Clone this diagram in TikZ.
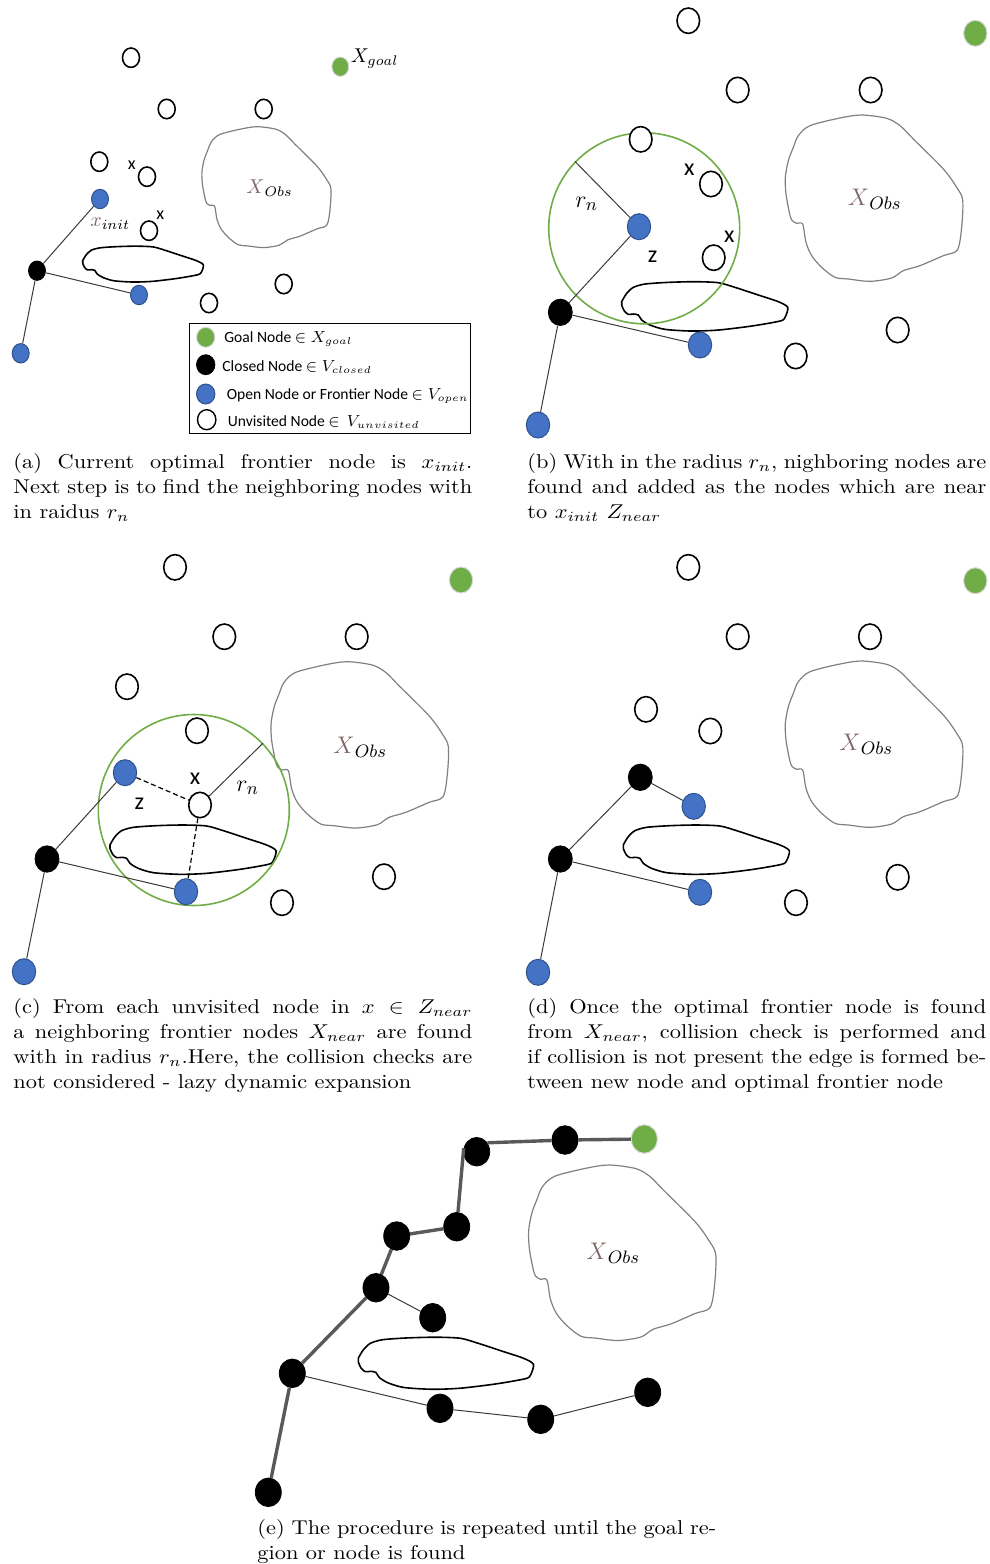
\documentclass[tikz,border=0pt]{standalone}
\usepackage{fontspec}
\newfontfamily\carl{Carlito}
\usetikzlibrary{shapes.geometric}

\definecolor{nodeblue}{HTML}{4472C4}
\definecolor{blueedge}{HTML}{2F528F}
\definecolor{nodegreen}{HTML}{70AD47}
\definecolor{obsgray}{HTML}{808080}
\definecolor{obsbrown}{HTML}{7F6565}
\definecolor{pathgray}{HTML}{595959}
\definecolor{edgegray}{HTML}{3A3A3A}

% obstacle outlines, drawn in a local frame (top-left corner / left tip at the origin)
\newcommand\ObsBig{\draw[obsline] plot[smooth cycle, tension=0.5] coordinates {
 (40,62) (75,32) (165,9) (230,0) (305,10) (345,32) (385,72) (475,162) (515,217)
 (533,255) (530,337) (517,405) (475,422) (405,452) (355,467) (320,489) (255,499)
 (190,492) (150,487) (110,457) (80,422) (63,382) (53,327) (35,325) (20,315)
 (13,292) (3,237) (1,187) (10,137) (25,97)};}
\newcommand\ObsSmall{\draw[obsblack] plot[smooth cycle, tension=0.45] coordinates {
 (0,0) (15,-25) (35,-43) (70,-53) (140,-58) (220,-60) (290,-57) (340,-43)
 (410,-20) (470,0) (498,17) (490,47) (475,58) (390,73) (290,85) (210,88)
 (130,83) (85,70) (60,55) (50,40) (35,37) (20,38) (8,28) (0,10)};}
\newcommand\Xobs{$\textcolor{obsbrown}{X}_{Obs}$}
% caption blocks: 10pt text, widened to the column width
\newlength\capwi
\setlength\capwi{204.9pt}
\newcommand\jline[1]{\makebox[\capwi][s]{#1}\\}
\newcommand\capblock[1]{\scalebox{1.12}[1]{\parbox[t]{\capwi}{\fontsize{10}{12.6}\selectfont #1}}}

\begin{document}
\begin{tikzpicture}[x=0.5pt,y=-0.5pt,
  unv/.style={ellipse, draw=black, line width=0.8pt, fill=white, inner sep=0pt,
              minimum width=11.3pt, minimum height=12.7pt},
  opn/.style={ellipse, draw=blueedge, line width=0.5pt, fill=nodeblue, inner sep=0pt,
              minimum width=11.7pt, minimum height=13pt},
  cls/.style={ellipse, draw=black, fill=black, inner sep=0pt,
              minimum width=12pt, minimum height=13.2pt},
  gol/.style={ellipse, draw=white!85!black, line width=0.5pt, fill=nodegreen, inner sep=0pt,
              minimum width=11.7pt, minimum height=13pt},
  pa/.style={minimum width=8.5pt, minimum height=9.7pt},
  pe/.style={minimum width=13pt, minimum height=14.3pt},
  lg/.style={minimum width=9.2pt, minimum height=10pt},
  edgeline/.style={draw=edgegray, line width=0.5pt},
  dashedge/.style={draw=black, line width=0.6pt, dash pattern=on 2.5pt off 1.5pt},
  pathedge/.style={draw=pathgray, line width=1.7pt},
  rad/.style={circle, draw=nodegreen, line width=0.8pt, inner sep=0pt, minimum size=95.5pt},
  obsline/.style={draw=obsgray, line width=0.6pt},
  obsblack/.style={draw=black, line width=0.8pt},
  xmark/.style={inner sep=0pt, font=\carl\fontsize{12}{14}\selectfont},
  xmarka/.style={inner sep=0pt, font=\carl\fontsize{9}{11}\selectfont},
  lbl/.style={anchor=west, inner sep=0pt, font=\fontsize{13}{15}\selectfont},
  lbla/.style={anchor=west, inner sep=0pt, font=\fontsize{10}{12}\selectfont},
  keytext/.style={anchor=base west, inner sep=0pt, font=\carl\fontsize{7.8}{9.5}\selectfont},
  capt/.style={anchor=base west, inner sep=0pt}]
\useasboundingbox (0,0) rectangle (990,1564);

% ---------------- (a) ----------------
\begin{scope}[shift={(201.7,126.7)}, scale=0.2423] \ObsBig \end{scope}
\begin{scope}[shift={(82.7,260.7)}, scale=0.2423] \ObsSmall \end{scope}
\node[gol,pa] (a-g) at (340.3,66.7) {};
\node[unv,pa] (a-u1) at (131,57.7) {};
\node[unv,pa] (a-u2) at (166.7,109) {};
\node[unv,pa] (a-u3) at (263.7,109) {};
\node[unv,pa] (a-u4) at (99.3,161.7) {};
\node[unv,pa] (a-u5) at (147,176.7) {};
\node[unv,pa] (a-u6) at (149,230.7) {};
\node[unv,pa] (a-u7) at (283.7,284) {};
\node[unv,pa] (a-u8) at (209,303) {};
\node[opn,pa] (a-o1) at (100,199) {};
\node[opn,pa] (a-o2) at (139,295) {};
\node[opn,pa] (a-o3) at (20.7,353.3) {};
\node[cls,pa] (a-c1) at (37,270.7) {};
\draw[edgeline] (a-c1) -- (a-o1);
\draw[edgeline] (a-c1) -- (a-o2);
\draw[edgeline] (a-c1) -- (a-o3);
\node[lbla] (a-goal) at (350.5,58.3) {$X_{goal}$};
\node[lbla] (a-init) at (90,224) {$\textcolor{obsbrown}{x}_{init}$};
\node[lbla] (a-obs) at (246,187.7) {\Xobs};
\node[xmarka] (a-x1) at (131.7,165) {x};
\node[xmarka] (a-x2) at (160.3,215) {x};
% legend
\node[draw, line width=0.6pt, anchor=north west, inner sep=0pt,
      minimum width=140.8pt, minimum height=55pt] (a-key) at (188.5,322.7) {};
\node[gol,lg] (k-g) at (205.7,337.3) {};
\node[cls,lg] (k-c) at (205.7,364.7) {};
\node[opn,lg] (k-o) at (205.7,394) {};
\node[unv,lg,line width=0.7pt] (k-u) at (206.7,419.7) {};
\node[keytext] (k-gt) at (224,342.5) {Goal Node $\in X_{goal}$};
\node[keytext] (k-ct) at (222,371) {Closed Node $\in V_{closed}$};
\node[keytext] (k-ot) at (226.5,399.5) {Open Node or Frontier Node $\in V_{open}$};
\node[keytext] (k-ut) at (227.5,426) {Unvisited Node $\in$\ \ $V_{unvisited}$};

% ---------------- (b) ----------------
\begin{scope}[shift={(785,115)}, scale=1/3] \ObsBig \end{scope}
\begin{scope}[shift={(621.7,301.7)}, scale=1/3] \ObsSmall \end{scope}
\node[rad] (b-rad) at (644.2,228.3) {};
\node[gol] (b-g) at (975.3,33.3) {};
\node[unv] (b-u1) at (688.3,20.7) {};
\node[unv] (b-u2) at (737.7,90) {};
\node[unv] (b-u3) at (870.7,90) {};
\node[unv] (b-u4) at (640.7,139.3) {};
\node[unv] (b-u5) at (711,184) {};
\node[unv] (b-u6) at (713.7,257.7) {};
\node[unv] (b-u7) at (897.7,330) {};
\node[unv] (b-u8) at (795.7,356) {};
\node[opn] (b-o1) at (639,226.7) {};
\node[opn] (b-o2) at (700,345) {};
\node[opn] (b-o3) at (538,425) {};
\node[cls] (b-c1) at (560.3,312.3) {};
\draw[edgeline] (b-c1) -- (b-o1);
\draw[edgeline] (b-c1) -- (b-o2);
\draw[edgeline] (b-c1) -- (b-o3);
\draw[edgeline] (b-o1) -- (b-rad.136);
\node[lbl] (b-rn) at (575,204) {$r_n$};
\node[xmark] (b-x1) at (689.3,169.3) {x};
\node[xmark] (b-x2) at (729.3,236.7) {x};
\node[xmark] (b-z) at (652.7,256.7) {z};
\node[lbl] (b-obs) at (847.5,199) {\Xobs};

% ---------------- (c) ----------------
\begin{scope}[shift={(270.7,661.7)}, scale=1/3] \ObsBig \end{scope}
\begin{scope}[shift={(110,845)}, scale=1/3] \ObsSmall \end{scope}
\node[rad] (c-rad) at (193.8,810) {};
\node[gol] (c-g) at (461,580) {};
\node[unv] (c-u1) at (175,567.3) {};
\node[unv] (c-u2) at (224.3,636.7) {};
\node[unv] (c-u3) at (356.7,636.7) {};
\node[unv] (c-u4) at (127,686.7) {};
\node[unv] (c-u5) at (197,730.7) {};
\node[unv] (c-u6) at (200,805) {};
\node[unv] (c-u7) at (384,876.7) {};
\node[unv] (c-u8) at (282,902.7) {};
\node[opn] (c-o1) at (125,772.7) {};
\node[opn] (c-o2) at (186,891.7) {};
\node[opn] (c-o3) at (24,971.7) {};
\node[cls] (c-c1) at (47,859) {};
\draw[edgeline] (c-c1) -- (c-o1);
\draw[edgeline] (c-c1) -- (c-o2);
\draw[edgeline] (c-c1) -- (c-o3);
\draw[dashedge] (c-o1) -- (c-u6);
\draw[dashedge] (c-u6) -- (c-o2);
\draw[edgeline] (c-u6) -- (c-rad.44);
\node[xmark] (c-x) at (195,778.3) {x};
\node[xmark] (c-z) at (139.3,803.3) {z};
\node[lbl] (c-rn) at (236,788) {$r_n$};
\node[lbl] (c-obs) at (333,747.5) {\Xobs};

% ---------------- (d) ----------------
\begin{scope}[shift={(785,661)}, scale=1/3] \ObsBig \end{scope}
\begin{scope}[shift={(623.3,845)}, scale=1/3] \ObsSmall \end{scope}
\node[gol] (d-g) at (975.3,580.7) {};
\node[unv] (d-u1) at (688.3,567.3) {};
\node[unv] (d-u2) at (737.7,636.7) {};
\node[unv] (d-u3) at (870,636.7) {};
\node[unv] (d-u4) at (646,709.3) {};
\node[unv] (d-u5) at (710.3,731) {};
\node[unv] (d-u6) at (897.7,877.3) {};
\node[unv] (d-u7) at (796,902.7) {};
\node[cls] (d-c1) at (640.3,777.3) {};
\node[cls] (d-c2) at (560.3,859) {};
\node[opn] (d-o1) at (693.7,806.3) {};
\node[opn] (d-o2) at (700,892.3) {};
\node[opn] (d-o3) at (538,972.3) {};
\draw[edgeline] (d-c1) -- (d-o1);
\draw[edgeline] (d-c1) -- (d-c2);
\draw[edgeline] (d-c2) -- (d-o2);
\draw[edgeline] (d-c2) -- (d-o3);
\node[lbl] (d-obs) at (839,744.3) {\Xobs};

% ---------------- (e) ----------------
\begin{scope}[shift={(528.3,1165)}, scale=0.3517] \ObsBig \end{scope}
\begin{scope}[shift={(358.3,1358.3)}, scale=0.3517] \ObsSmall \end{scope}
\node[gol,pe] (e-g) at (644.3,1139) {};
\node[cls,pe] (e-c1) at (565,1140) {};
\node[cls,pe] (e-c2) at (476.7,1151.7) {};
\node[cls,pe] (e-c3) at (456.7,1226.7) {};
\node[cls,pe] (e-c4) at (396.7,1236) {};
\node[cls,pe] (e-c5) at (376,1287.7) {};
\node[cls,pe] (e-c6) at (432.7,1317.7) {};
\node[cls,pe] (e-c7) at (292.3,1373.3) {};
\node[cls,pe] (e-c8) at (440,1408.3) {};
\node[cls,pe] (e-c9) at (540.7,1419.3) {};
\node[cls,pe] (e-c10) at (647.7,1392.3) {};
\node[cls,pe] (e-c11) at (268.3,1492.3) {};
\draw[pathedge] (e-g) -- (e-c1) -- (e-c2.40);
\draw[pathedge] (e-c2.165) -- (e-c3) -- (e-c4) -- (e-c5) -- (e-c7) -- (e-c11);
\draw[edgeline] (e-c5) -- (e-c6);
\draw[edgeline] (e-c7) -- (e-c8) -- (e-c9) -- (e-c10);
\node[lbl] (e-obs) at (586,1253) {\Xobs};

% ---------------- captions ----------------
\node[capt] (cap-a) at (13,468) {\capblock{%
 \jline{(a) Current optimal frontier node is $x_{init}$.}%
 \jline{Next step is to find the neighboring nodes with}%
 in raidus $r_n$}};
\node[capt] (cap-b) at (527,468) {\capblock{%
 \jline{(b) With in the radius $r_n$, nighboring nodes are}%
 \jline{found and added as the nodes which are near}%
 to $x_{init}$ $Z_{near}$}};
\node[capt] (cap-c) at (13,1013) {\capblock{%
 \jline{(c) From each unvisited node in $x\in Z_{near}$}%
 \jline{a neighboring frontier nodes $X_{near}$ are found}%
 \jline{with in radius $r_n$.Here, the collision checks are}%
 not considered - lazy dynamic expansion}};
\node[capt] (cap-d) at (527,1013) {\capblock{%
 \jline{(d) Once the optimal frontier node is found}%
 \jline{from $X_{near}$, collision check is performed and}%
 \jline{if collision is not present the edge is formed be-}%
 tween new node and optimal frontier node}};
\node[capt] (cap-e) at (257,1534.5) {\capblock{%
 \jline{(e) The procedure is repeated until the goal re-}%
 gion or node is found}};
\end{tikzpicture}
\end{document}
